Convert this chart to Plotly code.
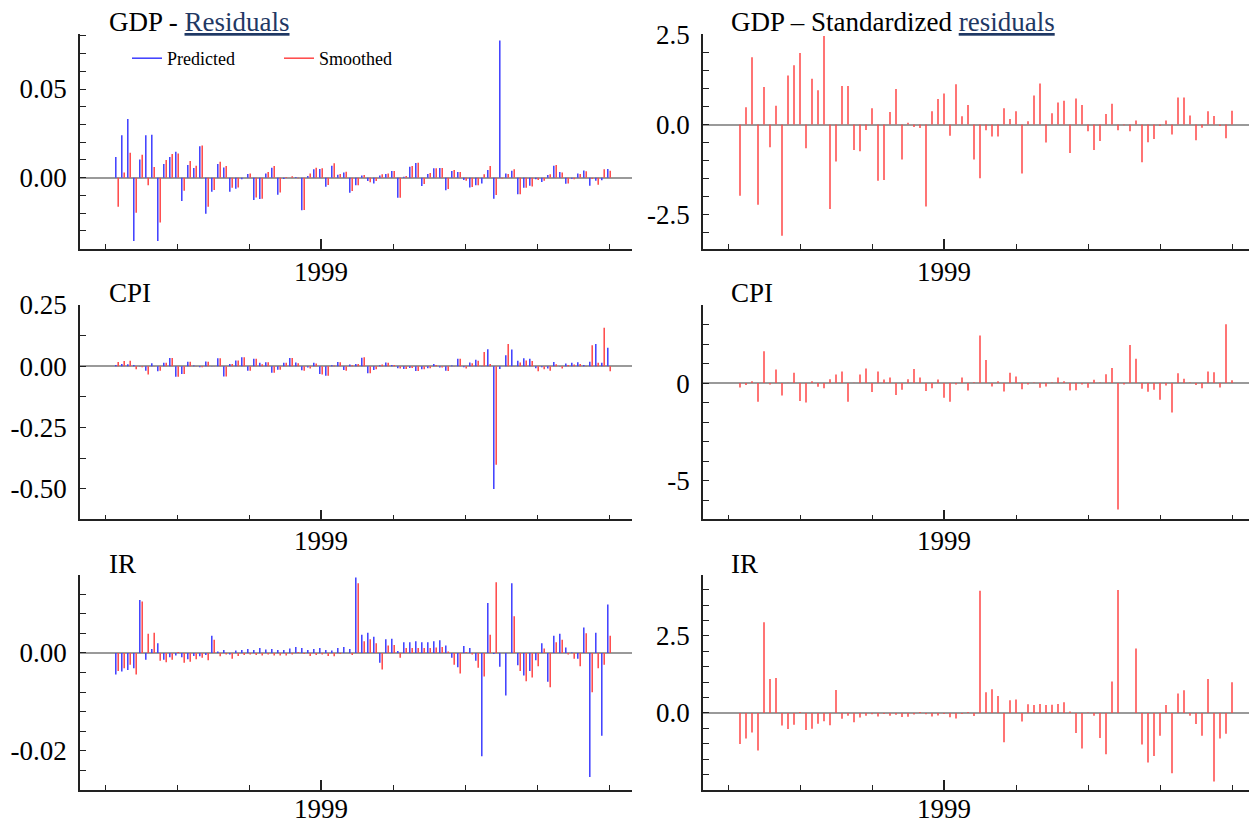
import plotly.graph_objects as go

# ---------------- data (monthly, first observation = month 2 after Jan 1996) ----------------
FIRST_MONTH = 2
TICK_YEARS = [1996, 1997, 1998, 1999, 2000, 2001, 2002, 2003]
LABEL_YEAR = 1999

gdp_predicted = [0.0117, 0.0239, 0.0331, -0.0357, 0.0103, 0.0239, 0.0242, -0.0357, 0.0077, 0.0117,
                 0.0147, -0.0132, 0.0071, 0.0055, 0.0177, -0.0203, -0.0079, 0.0077, 0.0058, -0.0079,
                 -0.0062, -0.0009, 0.0021, -0.0126, -0.0120, 0.0023, 0.0056, -0.0096, -0.0008, 0.0000,
                 0.0004, -0.0184, 0.0009, 0.0047, 0.0049, -0.0051, 0.0068, 0.0017, 0.0030, -0.0085,
                 -0.0043, 0.0013,
                 -0.0019, -0.0032, 0.0013, 0.0021, 0.0038, -0.0113, 0.0006, 0.0062, 0.0083, -0.0047,
                 0.0021, 0.0053, 0.0055, -0.0071, 0.0038, 0.0032, -0.0013, -0.0055, -0.0043, -0.0032,
                 0.0043, -0.0118, 0.0773, 0.0024, 0.0039, -0.0094, -0.0056, -0.0045, -0.0009, -0.0024,
                 0.0015, 0.0068, 0.0032, -0.0034, -0.0006, 0.0023, 0.0041, -0.0045, -0.0017, -0.0015,
                 0.0049]
gdp_smoothed = [-0.0164, 0.0030, 0.0141, -0.0197, 0.0130, -0.0043, 0.0060, -0.0252, 0.0100, 0.0133,
                0.0137, -0.0073, 0.0094, 0.0068, 0.0182, -0.0164, -0.0070, 0.0090, 0.0066, -0.0056,
                -0.0055, 0.0000, 0.0024, -0.0111, -0.0118, 0.0032, 0.0066, -0.0083, 0.0004, 0.0008,
                -0.0003, -0.0182, 0.0023, 0.0056, 0.0053, -0.0041, 0.0081, 0.0021, 0.0034, -0.0075,
                -0.0043, 0.0015,
                -0.0026, -0.0019, 0.0019, 0.0023, 0.0038, -0.0113, 0.0009, 0.0066, 0.0085, -0.0036,
                0.0026, 0.0053, 0.0055, -0.0064, 0.0043, 0.0032, -0.0017, -0.0053, -0.0043, 0.0019,
                0.0066, -0.0098, -0.0004, 0.0021, 0.0047, -0.0094, -0.0056, -0.0049, -0.0013, -0.0017,
                0.0019, 0.0071, 0.0030, -0.0032, -0.0009, 0.0021, 0.0036, -0.0008, -0.0040, 0.0047,
                0.0039]

cpi_predicted = [0.005, 0.009, 0.008, 0.005, -0.001, -0.018, 0.012, -0.020, 0.014, 0.034,
                 -0.043, -0.031, 0.019, 0.003, -0.004, 0.020, 0.001, 0.033, -0.042, 0.009,
                 0.024, 0.037, -0.018, 0.031, 0.014, 0.016, -0.026, -0.014, 0.014, 0.034,
                 0.015, -0.016, -0.005, 0.014, -0.031, -0.039, 0.004, 0.018, -0.015, 0.007,
                 0.009, 0.035,
                 -0.028, -0.015, 0.004, 0.015, 0.005, -0.008, -0.011, -0.007, -0.019, -0.012,
                 -0.008, 0.009, -0.005, -0.018, 0.003, 0.031, -0.004, 0.015, 0.027, 0.001,
                 0.070, -0.500, -0.011, 0.045, 0.068, 0.023, 0.033, 0.031, -0.008, -0.004,
                 -0.009, 0.018, -0.001, 0.011, 0.014, 0.016, 0.005, 0.019, 0.091, 0.014,
                 0.076]
cpi_smoothed = [0.018, 0.022, 0.023, -0.012, -0.004, -0.033, 0.001, -0.018, 0.014, 0.034,
                -0.043, -0.031, 0.019, 0.001, -0.004, 0.019, 0.001, 0.033, -0.042, 0.009,
                0.024, 0.037, -0.018, 0.031, 0.008, 0.016, -0.026, -0.014, 0.014, 0.034,
                0.012, -0.018, -0.009, 0.011, -0.033, -0.039, 0.003, 0.016, -0.018, 0.004,
                0.009, 0.037,
                -0.028, -0.012, 0.007, 0.014, 0.005, -0.009, -0.011, -0.007, -0.019, -0.012,
                -0.008, 0.005, -0.005, -0.019, -0.001, 0.031, -0.009, 0.012, 0.023, 0.058,
                0.009, -0.402, 0.000, 0.091, 0.001, 0.015, 0.024, 0.022, -0.020, -0.012,
                -0.018, 0.008, -0.009, 0.005, 0.007, 0.009, -0.001, 0.086, 0.014, 0.157,
                -0.020]

ir_predicted = [-0.0044, -0.0038, -0.0035, -0.0031, 0.0108, -0.0014, 0.0008, 0.0020, -0.0014, -0.0009,
                -0.0005, -0.0009, -0.0013, -0.0006, -0.0007, -0.0004, 0.0035, 0.0003, 0.0006, -0.0003,
                0.0005, 0.0006, 0.0008, 0.0006, 0.0010, 0.0007, 0.0008, 0.0006, 0.0006, 0.0009,
                0.0012, 0.0010, 0.0006, 0.0008, 0.0010, 0.0006, 0.0005, 0.0010, 0.0012, 0.0008,
                0.0154, 0.0037,
                0.0041, 0.0033, -0.0020, 0.0028, 0.0029, 0.0004, 0.0022, 0.0022, 0.0024, 0.0022,
                0.0022, 0.0024, 0.0026, 0.0015, -0.0010, -0.0029, 0.0014, 0.0010, -0.0016, -0.0211,
                0.0102, -0.0002, -0.0028, -0.0087, 0.0142, -0.0025, -0.0046, -0.0037, -0.0015, 0.0020,
                -0.0059, 0.0035, 0.0039, 0.0011, 0.0001, -0.0012, 0.0052, -0.0253, 0.0041, -0.0169,
                0.0099]
ir_smoothed = [-0.0037, -0.0031, -0.0024, -0.0044, 0.0105, 0.0039, 0.0041, -0.0016, -0.0019, -0.0014,
               0.0002, -0.0020, -0.0018, -0.0013, -0.0010, -0.0015, 0.0027, -0.0007, -0.0003, -0.0012,
               -0.0006, -0.0004, -0.0003, -0.0004, -0.0005, -0.0003, -0.0005, -0.0005, -0.0005, -0.0003,
               0.0002, -0.0002, -0.0006, -0.0004, -0.0003, -0.0006, -0.0007, -0.0002, 0.0000, -0.0004,
               0.0142, 0.0024,
               0.0028, 0.0020, -0.0034, 0.0015, 0.0016, -0.0010, 0.0010, 0.0010, 0.0010, 0.0010,
               0.0010, 0.0011, 0.0012, 0.0003, -0.0024, -0.0042, 0.0002, -0.0003, -0.0030, -0.0048,
               0.0037, 0.0144, 0.0000, 0.0000, 0.0075, -0.0037, -0.0058, -0.0050, -0.0027, 0.0009,
               -0.0070, 0.0022, 0.0027, -0.0003, -0.0012, -0.0027, 0.0040, -0.0080, -0.0031, -0.0024,
               0.0035]

gdp_standardized = [-1.98, 0.48, 1.87, -2.23, 1.04, -0.63, 0.52, -3.09, 1.36, 1.65,
                    1.99, -0.66, 1.27, 0.95, 2.46, -2.35, -1.03, 1.07, 1.07, -0.71,
                    -0.74, -0.15, 0.45, -1.56, -1.54, 0.35, 0.99, -0.97, 0.05, -0.07,
                    -0.10, -2.28, 0.37, 0.71, 0.86, -0.31, 1.12, 0.23, 0.54, -0.97,
                    -1.49, -0.16, -0.33, -0.33, 0.45, 0.15, 0.37, -1.36, 0.09, 0.81,
                    1.14, -0.50, 0.31, 0.61, 0.66, -0.79, 0.72, 0.54, -0.19, -0.71,
                    -0.46, 0.29, 0.58, -0.16, -0.02, -0.19, 0.11, -1.05, -0.49, -0.40,
                    -0.04, 0.11, -0.28, 0.75, 0.75, 0.25, -0.44, -0.09, 0.37, 0.24,
                    -0.04, -0.38, 0.38]
cpi_standardized = [-0.22, -0.09, 0.10, -0.96, 1.64, -0.07, 0.70, -0.63, 0.02, 0.53,
                    -0.92, -0.99, 0.10, -0.19, -0.26, 0.20, 0.44, 0.60, -0.96, 0.02,
                    0.44, 0.75, -0.46, 0.60, 0.19, 0.29, -0.61, -0.34, 0.20, 0.72,
                    0.29, -0.41, -0.26, 0.19, -0.75, -0.96, -0.07, 0.29, -0.38, 0.05,
                    2.44, 1.18, -0.17, 0.09, -0.43, 0.53, 0.34, -0.32, -0.07, 0.03,
                    -0.24, -0.17, 0.03, 0.29, 0.09, -0.38, -0.36, -0.07, -0.24, 0.17,
                    0.03, 0.46, 0.77, -6.48, -0.07, 1.96, 1.25, -0.29, -0.44, -0.34,
                    -0.85, -0.12, -1.50, 0.51, 0.22, 0.03, -0.10, -0.26, 0.60, 0.56,
                    -0.22, 3.02, 0.15]
ir_standardized = [-1.01, -0.83, -0.63, -1.22, 2.95, 1.10, 1.14, -0.41, -0.52, -0.38,
                   0.03, -0.55, -0.51, -0.35, -0.27, -0.40, 0.75, -0.19, -0.09, -0.30,
                   -0.15, -0.09, -0.04, -0.11, -0.03, -0.09, -0.06, -0.13, -0.12, -0.05,
                   0.03, -0.04, -0.11, -0.08, -0.03, -0.14, -0.18, -0.03, 0.03, -0.10,
                   3.97, 0.67, 0.77, 0.55, -0.95, 0.41, 0.44, -0.28, 0.28, 0.26,
                   0.29, 0.26, 0.27, 0.29, 0.35, 0.05, -0.65, -1.15, 0.02, -0.09,
                   -0.81, -1.34, 1.02, 3.99, 0.00, 0.00, 2.09, -1.02, -1.61, -1.40,
                   -0.74, 0.26, -1.96, 0.63, 0.74, -0.09, -0.36, -0.74, 1.10, -2.22,
                   -0.83, -0.67, 1.00]

# y-axis tick labels per panel
gdp_res_ticks = {0.0: "0.00", 0.05: "0.05"}
cpi_res_ticks = {0.25: "0.25", 0.0: "0.00", -0.25: "-0.25", -0.5: "-0.50"}
ir_res_ticks = {0.0: "0.00", -0.02: "-0.02"}
gdp_std_ticks = {2.5: "2.5", 0.0: "0.0", -2.5: "-2.5"}
cpi_std_ticks = {0.0: "0", -5.0: "-5"}
ir_std_ticks = {2.5: "2.5", 0.0: "0.0"}

titles = ["GDP - <span style='color:#1F3864;text-decoration:underline'>Residuals</span>",
          "GDP \u2013 Standardized <span style='color:#1F3864;text-decoration:underline'>residuals</span>",
          "CPI", "CPI", "IR", "IR"]

# ---------------- layout helpers ----------------
W, H = 1249, 824
FONT = "Liberation Serif, Times New Roman, serif"
BLUE = "#3c3cff"
RED = "#ff4646"
AXC = "#222222"

n = len(gdp_predicted)
months = [FIRST_MONTH + i for i in range(n)]
year_ticks = [(y - TICK_YEARS[0]) * 12 for y in TICK_YEARS]
label_tick = (LABEL_YEAR - TICK_YEARS[0]) * 12


def stems(ys, offset=0.0):
    xs_out, ys_out = [], []
    for m, v in zip(months, ys):
        xs_out += [m + offset, m + offset, None]
        ys_out += [0, v, None]
    return xs_out, ys_out


col_px = [(80, 632), (703, 1249)]
row_px = [(34.4, 249), (304.5, 519.3), (575, 790)]
year_label_px = [272, 541, 809]
px_per_month = 6.0
x0 = -25.0 / px_per_month

panels = [
    (0, 0, [(gdp_predicted, BLUE, "Predicted"), (gdp_smoothed, RED, "Smoothed")], (-0.0402, 0.0808), 0.01, gdp_res_ticks),
    (0, 1, [(gdp_standardized, RED, None)], (-3.46, 2.505), 0.5, gdp_std_ticks),
    (1, 0, [(cpi_predicted, BLUE, None), (cpi_smoothed, RED, None)], (-0.624, 0.252), 0.125, cpi_res_ticks),
    (1, 1, [(cpi_standardized, RED, None)], (-6.98, 4.03), 1.0, cpi_std_ticks),
    (2, 0, [(ir_predicted, BLUE, None), (ir_smoothed, RED, None)], (-0.02796, 0.0159), 0.004, ir_res_ticks),
    (2, 1, [(ir_standardized, RED, None)], (-2.5, 4.48), 0.5, ir_std_ticks),
]

fig = go.Figure()
layout = dict(width=W, height=H, margin=dict(l=0, r=0, t=0, b=0, pad=0, autoexpand=False), autosize=False,
              paper_bgcolor="white", plot_bgcolor="white",
              font=dict(family=FONT, size=27, color="black"))
annotations = []

for i, (r, c, series, yr, step, tlabels) in enumerate(panels):
    k = i + 1
    xa = "x" if k == 1 else f"x{k}"
    ya = "y" if k == 1 else f"y{k}"
    xl, xr = col_px[c]
    yt, yb = row_px[r]
    width_px = xr - xl
    xrange = [x0, x0 + width_px / px_per_month]

    two = len(series) == 2
    for j, (vals, color, name) in enumerate(series):
        off = (-0.2 if j == 0 else 0.2) if two else 0.0
        sx, sy = stems(vals, off)
        fig.add_trace(go.Scatter(x=sx, y=sy, mode="lines", xaxis=xa, yaxis=ya,
                                 line=dict(color=color, width=1.5),
                                 name=name if name else "", showlegend=bool(name),
                                 hoverinfo="skip"))

    lo, hi = yr
    start = int(lo / step) - 1
    stop = int(hi / step) + 1
    tv = [round(q * step, 6) for q in range(start, stop + 1) if lo - 1e-9 <= q * step <= hi + 1e-9]
    tt = [tlabels.get(round(v, 6), "") for v in tv]

    layout["xaxis" + ("" if k == 1 else str(k))] = dict(
        domain=[xl / W, xr / W], range=xrange, anchor=ya, automargin=False,
        showline=True, linecolor=AXC, linewidth=1.5, zeroline=False, showgrid=False,
        ticks="inside", tickvals=[label_tick], ticktext=[str(LABEL_YEAR)], ticklen=10,
        tickwidth=1.5, tickcolor=AXC, showticklabels=False,
        minor=dict(tickvals=year_ticks, ticks="inside", ticklen=5, tickwidth=1.2, tickcolor=AXC, showgrid=False),
    )
    layout["yaxis" + ("" if k == 1 else str(k))] = dict(
        domain=[1 - yb / H, 1 - yt / H], range=[lo, hi], anchor=xa, automargin=False,
        showline=True, linecolor=AXC, linewidth=1.5, showgrid=False,
        zeroline=True, zerolinecolor="#9a9a9a", zerolinewidth=1.5,
        ticks="inside", tickvals=tv, ticktext=tt, ticklen=6, tickwidth=1.2, tickcolor=AXC,
        ticklabelstandoff=6, tickfont=dict(family=FONT, size=27),
    )
    # year label under the axis, placed at the labelled tick through the x axis
    annotations.append(dict(text=str(LABEL_YEAR), xref=xa, yref="paper", x=label_tick,
                            y=1 - year_label_px[r] / H, xanchor="center", yanchor="middle",
                            showarrow=False, font=dict(family=FONT, size=27, color="black")))

title_pos = [(107, 22), (729, 22), (107, 293), (729, 293), (107, 564), (729, 564)]
for (tx, ty), txt in zip(title_pos, titles):
    annotations.append(dict(text=txt, xref="paper", yref="paper", x=tx / W, y=1 - ty / H,
                            xanchor="left", yanchor="middle", showarrow=False,
                            font=dict(family=FONT, size=27, color="black")))

layout["annotations"] = annotations
layout["legend"] = dict(orientation="h", x=127 / W, y=1 - 40 / H, xanchor="left", yanchor="top",
                        bgcolor="rgba(0,0,0,0)", font=dict(family=FONT, size=18),
                        entrywidth=107, entrywidthmode="pixels", itemwidth=30)
fig.update_layout(**layout)

fig.write_html("out.html", config={"displayModeBar": False},
               post_script="document.body.style.margin='0';")
